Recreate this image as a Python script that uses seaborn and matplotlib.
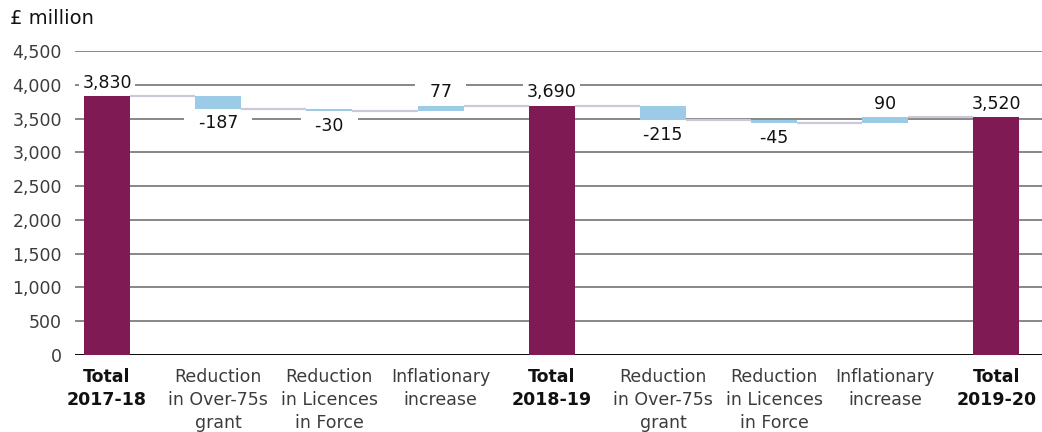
import matplotlib
matplotlib.use("Agg")
import matplotlib.pyplot as plt
import numpy as np
import pandas as pd
import seaborn as sns

# Licence fee income bridge, £ million
step_labels = [
    "Total\n2017-18",
    "Reduction\nin Over-75s\ngrant",
    "Reduction\nin Licences\nin Force",
    "Inflationary\nincrease",
    "Total\n2018-19",
    "Reduction\nin Over-75s\ngrant",
    "Reduction\nin Licences\nin Force",
    "Inflationary\nincrease",
    "Total\n2019-20",
]
step_values = [3830, -187, -30, 77, 3690, -215, -45, 90, 3520]
is_total = [True, False, False, False, True, False, False, False, True]
y_ticks = [0, 500, 1000, 1500, 2000, 2500, 3000, 3500, 4000, 4500]

TOTAL_COLOUR = "#7f1a55"
CHANGE_COLOUR = "#9ccbe8"
CONNECTOR_COLOUR = "#cbc8d8"
GRID_COLOUR = "#737373"
TEXT_COLOUR = "#3c3c3c"
BAR_WIDTH = 0.414

sns.set_theme(style="white")
plt.rcParams["font.family"] = ["DejaVu Sans"]

# floating bar geometry from the running total
bottoms, heights, levels = [], [], []
running = 0
for v, tot in zip(step_values, is_total):
    if tot:
        bottoms.append(0)
        heights.append(v)
        running = v
    else:
        bottoms.append(min(running, running + v))
        heights.append(abs(v))
        running += v
    levels.append(running)

df = pd.DataFrame({
    "step": [str(i) for i in range(len(step_values))],
    "value": step_values,
    "bottom": bottoms,
    "height": heights,
    "total": is_total,
})
order = list(df["step"])

fig = plt.figure(figsize=(10.42, 4.32), dpi=100)
ax = fig.add_axes([75 / 1042, 1 - 355 / 432, 967 / 1042, 304 / 432])

for flag, colour in [(True, TOTAL_COLOUR), (False, CHANGE_COLOUR)]:
    sub = df[df["total"] == flag]
    sns.barplot(
        data=sub, x="step", y="height", order=order, color=colour,
        saturation=1, width=BAR_WIDTH, bottom=sub["bottom"].to_numpy(),
        errorbar=None, ax=ax, zorder=2, linewidth=0,
    )

# connectors between consecutive bars
for i in range(len(levels) - 1):
    ax.plot([i + BAR_WIDTH / 2, i + 1 - BAR_WIDTH / 2], [levels[i], levels[i]],
            color=CONNECTOR_COLOUR, lw=1.6, zorder=1.8, solid_capstyle="butt")

# value labels; the white box breaks the gridline behind each label
for i, (v, tot) in enumerate(zip(step_values, is_total)):
    top = bottoms[i] + heights[i]
    if tot or v > 0:
        y, dy = top, 9.8
    else:
        y, dy = bottoms[i], -10.5
    text = f"{v:,}" if tot else f"  {v:,}  "
    ax.annotate(text, xy=(i, y), xytext=(0, dy), textcoords="offset points",
                ha="center", va="center", fontsize=12.5, color="#111111",
                zorder=1,
                bbox=dict(boxstyle="square,pad=0.2", fc="white", ec="none"))

ax.set_xlim(-0.288, 8.41)
ax.set_ylim(0, 4500)
ax.set_yticks(y_ticks)
ax.set_yticklabels([f"{t:,}" for t in y_ticks])
ax.set_xticks(range(len(step_labels)))
ax.set_xticklabels(step_labels)
ax.set_xlabel("")
ax.set_ylabel("")

ax.yaxis.grid(True, color=GRID_COLOUR, lw=1.2)
ax.set_axisbelow(True)
ax.axhline(0, color="black", lw=1.3, zorder=1.5)
for s in ax.spines.values():
    s.set_visible(False)

ax.tick_params(axis="y", length=0, pad=9.5, labelsize=12.5, labelcolor=TEXT_COLOUR)
ax.tick_params(axis="x", length=0, pad=9, labelsize=12.5, labelcolor=TEXT_COLOUR)
for lab, tot in zip(ax.get_xticklabels(), is_total):
    lab.set_linespacing(1.38)
    if tot:
        lab.set_fontweight("bold")
        lab.set_color("#111111")

fig.text(10 / 1042, 1 - 19 / 432, "£ million", ha="left", va="center",
         fontsize=14, color="#111111")

fig.savefig("out.png", dpi=100, facecolor="white")
